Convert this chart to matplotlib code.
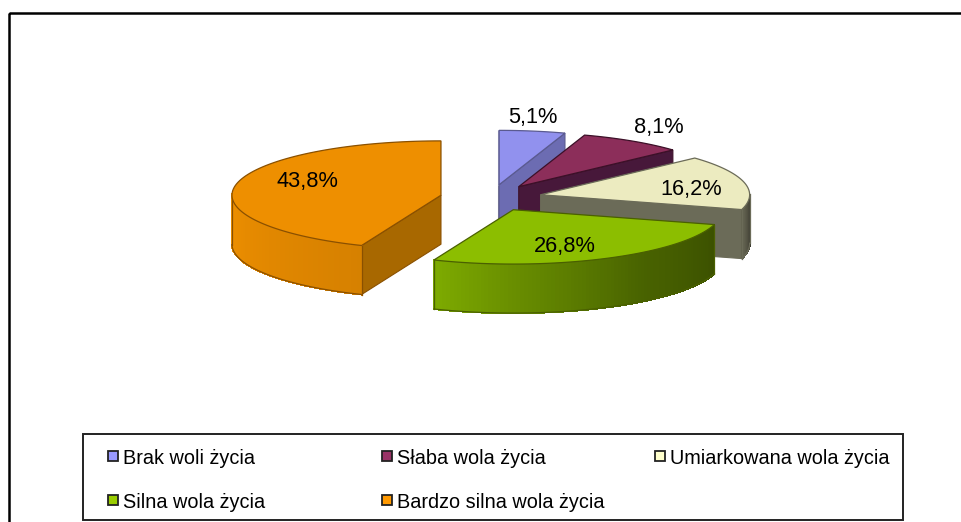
import numpy as np
import matplotlib
matplotlib.use("Agg")
import matplotlib.pyplot as plt
from matplotlib.patches import Rectangle

plt.rcParams['font.family'] = ['Liberation Sans', 'DejaVu Sans']

labels = ['Brak woli życia', 'Słaba wola życia', 'Umiarkowana wola życia',
          'Silna wola życia', 'Bardzo silna wola życia']
values = [5.1, 8.1, 16.2, 26.8, 43.8]
value_text = ['5,1%', '8,1%', '16,2%', '26,8%', '43,8%']

top_colors = ['#9191ee', '#8c2e5a', '#ecebc0', '#8cbe00', '#ee8f00']
legend_colors = ['#9999ff', '#993366', '#ffffcc', '#99cc00', '#ff9900']
edge_colors = ['#5a5a90', '#3c1028', '#6b6b58', '#4a6000', '#8a5000']
side_colors = ['#6c6cb2', '#47183a', '#6b6b58', '#6a8a00', '#a86800']

# pie geometry in image pixels, the slices are cut from values below
cx, cy = 491, 197.8
R, k = 209, 0.26
explode = 51
depth = 49

label_pos = [(532.5, 123), (659, 133), (691.5, 195), (564.5, 252), (307.5, 187)]
legend_pos = [(108, 464), (382, 464), (655, 464), (108, 508), (382, 508)]

fig = plt.figure(figsize=(9.62, 5.22), dpi=100)
ax = fig.add_axes([0, 0, 1, 1])
ax.set_xlim(0, 962)
ax.set_ylim(522, 0)
ax.axis('off')

# chart frame, its right and bottom sides are cropped away
ax.add_patch(Rectangle((9.5, 13), 1000, 530, fill=False, ec='black', lw=1.8))


def rim(apex, a):
    return apex[0] + R * np.sin(a), apex[1] - R * k * np.cos(a)


def shade(deg):
    # light falls from the left, front right of the rim goes dark
    return np.interp(deg, [90, 105, 142, 180, 202, 270, 360],
                     [0.2, 0.42, 0.52, 0.75, 0.9, 1.0, 1.0])


def scaled(color, f):
    rgb = np.array(matplotlib.colors.to_rgb(color))
    return tuple(rgb * f)


angles = np.cumsum([0] + values) / sum(values) * 360

for i in [0, 1, 2, 4, 3]:
    a0, a1 = np.radians(angles[i]), np.radians(angles[i + 1])
    mid = (a0 + a1) / 2
    apex = (cx + explode * np.sin(mid), cy - explode * k * np.cos(mid))
    arc = np.linspace(a0, a1, 90)
    xs, ys = rim(apex, arc)

    # thin lit strip along the first cut of the first slice
    if i == 0:
        ax.plot([apex[0], apex[0]], [ys[0], apex[1]], color='#a0a0c0', lw=2.2,
                solid_capstyle='butt', zorder=2)
        ax.plot([apex[0], apex[0]], [apex[1], apex[1] + depth], color='#808098', lw=2.2,
                solid_capstyle='butt', zorder=2)

    # flat wall of the cut that faces the viewer
    if i in (0, 1, 2, 4):
        ex, ey = rim(apex, a0 if i == 4 else a1)
        ax.fill([apex[0], ex, ex, apex[0]], [apex[1], ey, ey + depth, apex[1] + depth],
                color=side_colors[i], ec=edge_colors[i], lw=0.8, zorder=2)

    # outer wall, only the part facing the viewer, in thin shaded strips
    for j in range(len(arc) - 1):
        if np.sin((arc[j] + arc[j + 1]) / 2) > 0 and np.cos(arc[j]) > 0.02:
            continue
        if np.cos((arc[j] + arc[j + 1]) / 2) > 0.02:
            continue
        c = scaled(top_colors[i], shade(np.degrees(arc[j])))
        ax.fill([xs[j], xs[j + 1], xs[j + 1], xs[j]],
                [ys[j], ys[j + 1], ys[j + 1] + depth, ys[j] + depth],
                fc=c, ec=c, lw=0.8, antialiased=False, zorder=2)
    front = np.cos(arc) <= 0.02
    if front.any():
        fx, fy = xs[front], ys[front]
        ax.plot(fx, fy + depth, color=edge_colors[i], lw=0.9, zorder=2)
        ax.plot([fx[0], fx[0]], [fy[0], fy[0] + depth], color=edge_colors[i], lw=0.9, zorder=2)
        ax.plot([fx[-1], fx[-1]], [fy[-1], fy[-1] + depth], color=edge_colors[i], lw=0.9, zorder=2)

    ax.fill(np.r_[apex[0], xs], np.r_[apex[1], ys], color=top_colors[i],
            ec=edge_colors[i], lw=0.9, zorder=2)

for txt, (x, y) in zip(value_text, label_pos):
    ax.text(x, y, txt, fontsize=15.7, ha='center', va='baseline', color='black', zorder=5)

ax.add_patch(Rectangle((83, 434), 820, 86, fc='white', ec='#222222', lw=1.4, zorder=3))
for lab, col, (x, y) in zip(labels, legend_colors, legend_pos):
    ax.add_patch(Rectangle((x, y - 13.5), 10.5, 10.5, fc=col, ec='#222222', lw=1.3, zorder=4))
    ax.text(x + 15, y, lab, fontsize=14.3, ha='left', va='baseline', color='black', zorder=5)

fig.savefig('out.png', dpi=100)
